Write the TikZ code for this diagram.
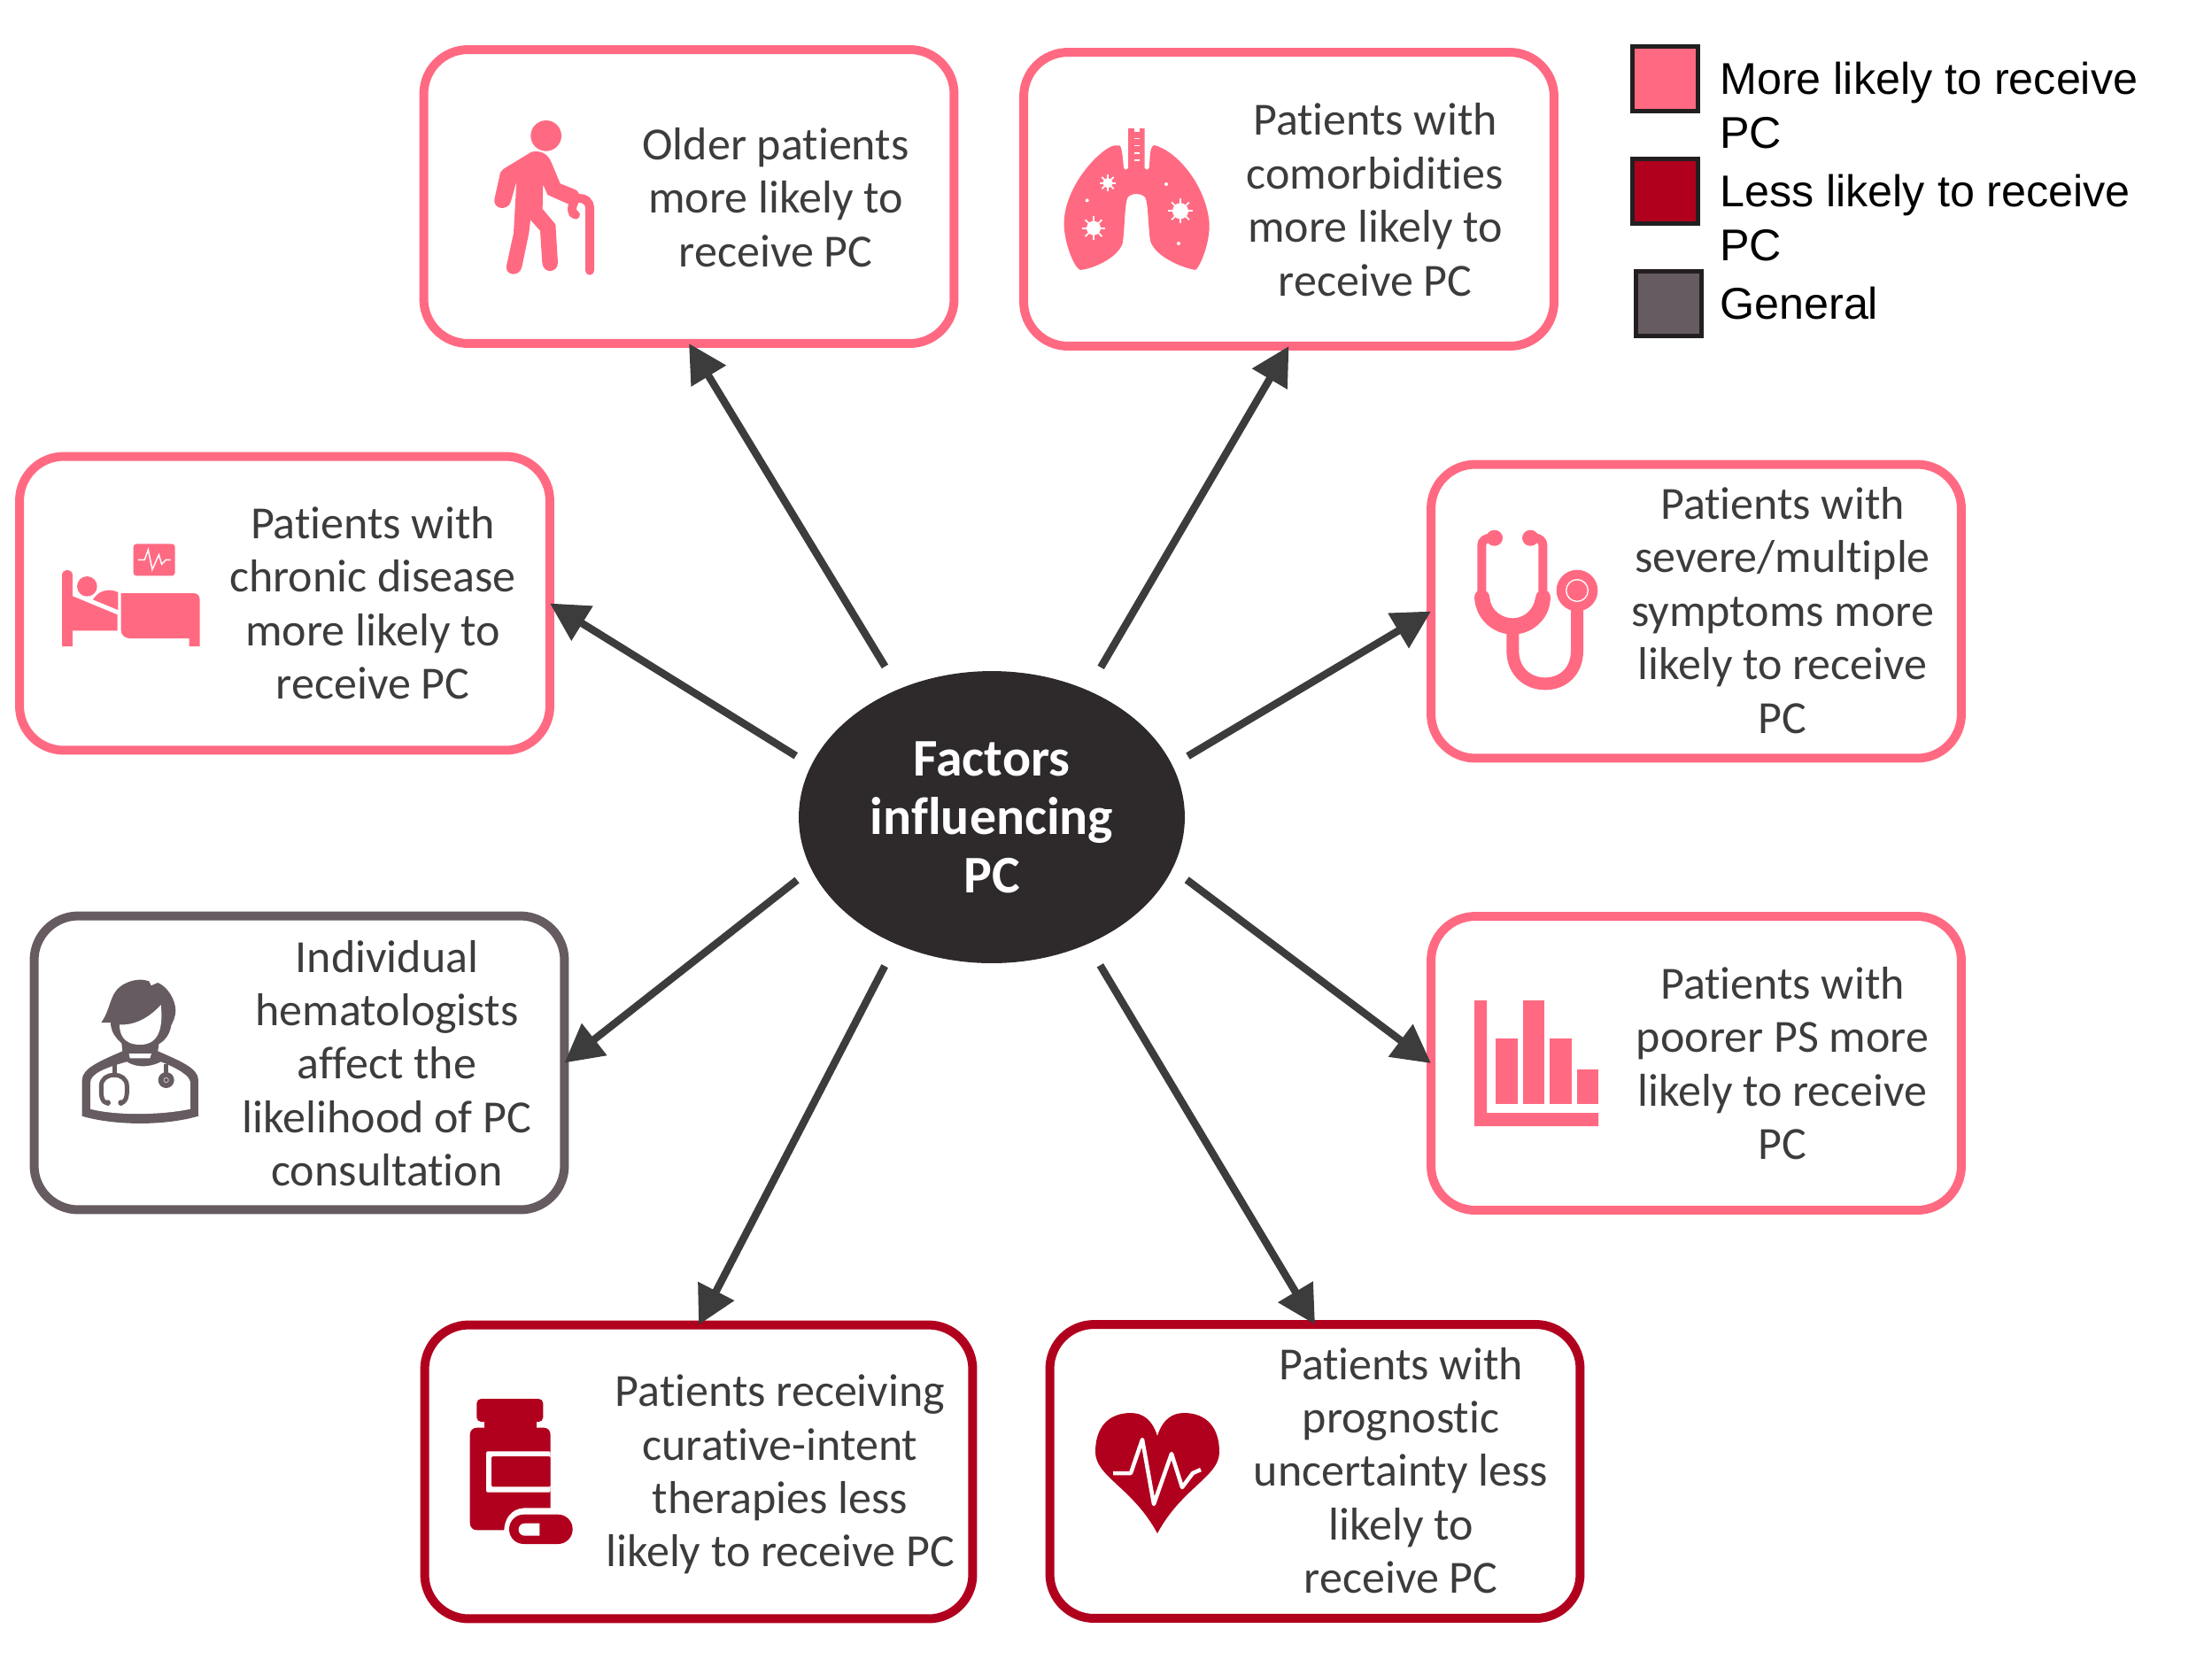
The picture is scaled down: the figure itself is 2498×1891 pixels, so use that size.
\documentclass[tikz,border=0pt]{standalone}
\usepackage{fontspec}
\setmainfont[Ligatures=NoCommon]{Carlito}
\newfontfamily\legendfont{Liberation Sans}
\usetikzlibrary{shapes.geometric}
\usetikzlibrary{arrows.meta}
\definecolor{pcmore}{HTML}{FF6A82}
\definecolor{pcless}{HTML}{B0001E}
\definecolor{pcgeneral}{HTML}{655B60}
\definecolor{pcdark}{HTML}{2E2A2B}
\definecolor{pctext}{HTML}{3C3C3C}
\definecolor{pcedge}{HTML}{231F20}
\tikzset{
  factorbox/.style={draw, line width=0.2cm, rounded corners=1cm, outer sep=0pt, minimum width=11.98cm, minimum height=6.64cm},
  morebox/.style={factorbox, draw=pcmore},
  lessbox/.style={factorbox, draw=pcless},
  generalbox/.style={factorbox, draw=pcgeneral},
  boxtext/.style={align=center, inner sep=0pt, text=pctext, font=\fontsize{29.6}{34.4}\selectfont},
  swatch/.style={draw=pcedge, line width=0.1cm, outer sep=0pt, minimum width=1.48cm, minimum height=1.46cm},
  legendtext/.style={align=left, anchor=west, inner sep=0pt, text=black, font=\legendfont\fontsize{28.6}{34.7}\selectfont},
  link/.style={draw=pctext, line width=0.17cm, -{Triangle[length=0.86cm,width=0.88cm]}},
  zoomed/.style={x=0.006667cm,y=-0.006667cm}
}
\newcommand{\virusmark}[4]{
  \fill[white] (#1,#2) circle (#3);
  \foreach \a in {0,45,...,315} \draw[white, line width=0.035cm] (#1,#2) -- ++(\a:#4);
}
\begin{document}
\begin{tikzpicture}[x=0.02cm,y=-0.02cm]
  \useasboundingbox (0,0) rectangle (2498,1891);

  % Central node
  \node [ellipse, fill=pcdark, inner sep=0pt, outer sep=0pt, minimum width=8.72cm, minimum height=6.6cm, align=center, text=white, font=\bfseries\fontsize{34}{37.5}\selectfont] (factors) at (1120,923) {Factors\\influencing\\PC};

  % Boxes
  \node [morebox] (older) at (778,222) {};
  \node [morebox] (comorbid) at (1455.5,225) {};
  \node [morebox] (chronic) at (321.5,681.5) {};
  \node [morebox] (severe) at (1915.5,690.5) {};
  \node [morebox] (poorer) at (1915.5,1201) {};
  \node [generalbox] (hemat) at (338,1200.5) {};
  \node [lessbox, minimum width=12.38cm] (curative) at (789,1662.5) {};
  \node [lessbox] (prognostic) at (1485,1662) {};

  % Box texts
  \node [boxtext] (oldertext) at (876,223) {Older patients\\more likely to\\receive PC};
  \node [boxtext] (comorbidtext) at (1553,225.5) {Patients with\\comorbidities\\more likely to\\receive PC};
  \node [boxtext] (chronictext) at (421,681) {Patients with\\chronic disease\\more likely to\\receive PC};
  \node [boxtext] (severetext) at (2013,689.5) {Patients with\\severe/multiple\\symptoms more\\likely to receive\\PC};
  \node [boxtext] (poorertext) at (2013,1201) {Patients with\\poorer PS more\\likely to receive\\PC};
  \node [boxtext] (hemattext) at (437,1201) {Individual\\hematologists\\affect the\\likelihood of PC\\consultation};
  \node [boxtext] (curativetext) at (881,1665.5) {Patients receiving\\curative-intent\\therapies less\\likely to receive PC};
  \node [boxtext] (prognostictext) at (1582,1661) {Patients with\\prognostic\\uncertainty less\\likely to\\receive PC};

  % Connections
  \path (factors.126) edge[link, shorten <=0.6cm] (older.south);
  \path (factors.53) edge[link, shorten <=0.6cm] (comorbid.south);
  \path (factors.164) edge[link, shorten <=0.41cm] (chronic.east);
  \path (factors.16) edge[link, shorten <=0.41cm] (severe.west);
  \path (factors.196) edge[link, shorten <=0.41cm] (hemat.east);
  \path (factors.344) edge[link, shorten <=0.41cm] (poorer.west);
  \path (factors.233) edge[link, shorten <=0.56cm] (curative.north);
  \path (factors.307) edge[link, shorten <=0.56cm] (prognostic.north);

  % Legend
  \node [swatch, fill=pcmore] (moreswatch) at (1880.5,89) {};
  \node [swatch, fill=pcless] (lessswatch) at (1880.5,216) {};
  \node [swatch, fill=pcgeneral] (generalswatch) at (1884,342.5) {};
  \node [legendtext] (morelabel) at (1942,119) {More likely to receive\\PC};
  \node [legendtext] (lesslabel) at (1942,246) {Less likely to receive\\PC};
  \node [legendtext] (generallabel) at (1942,343) {General};

  % Older patient icon
  \begin{scope}[shift={(550,130)},zoomed]
    \fill[pcmore] (200,70) circle (52);
    \fill[pcmore] (150,125) .. controls (180,118) and (205,130) .. (217,158) -- (248,232) -- (298,252) .. controls (318,262) and (318,285) .. (305,298) -- (272,300) -- (205,270) -- (190,235) -- (188,318) -- (232,370) -- (240,500) .. controls (240,535) and (190,540) .. (187,500) -- (180,392) -- (147,355) -- (142,400) -- (118,515) .. controls (110,550) and (60,545) .. (66,510) -- (90,400) -- (100,225) -- (80,295) .. controls (70,325) and (20,320) .. (25,285) -- (45,195) .. controls (48,188) and (50,186) .. (55,183) -- cycle;
    \draw[pcmore, line width=0.2cm, line cap=round] (348,527) -- (348,318) .. controls (348,290) and (330,282) .. (312,282);
    \draw[pcmore, line width=0.2cm, line cap=round] (300,338) .. controls (285,335) and (285,310) .. (295,295);
  \end{scope}

  % Lungs icon
  \begin{scope}[shift={(1195,135)},zoomed]
    \fill[pcmore] (208,88) .. controls (218,95) and (220,150) .. (222,165) .. controls (226,172) and (233,172) .. (237,165) -- (237,30) -- (293,30) -- (293,165) .. controls (297,172) and (304,172) .. (308,165) .. controls (312,130) and (308,95) .. (325,87) .. controls (400,105) and (500,220) .. (512,350) .. controls (515,420) and (480,500) .. (465,510) .. controls (410,500) and (325,460) .. (312,410) .. controls (305,370) and (305,280) .. (295,265) .. controls (285,248) and (245,248) .. (235,265) .. controls (225,285) and (225,380) .. (218,420) .. controls (200,470) and (120,505) .. (75,510) .. controls (50,500) and (15,400) .. (20,340) .. controls (30,210) and (150,95) .. (190,88) -- cycle;
    \fill[white] (257,30) rectangle (275,42);
    \foreach \y in {62,87,112,136} \fill[white] (257,\y) rectangle (275,\y+4);
    \virusmark{168}{215}{17}{28}
    \virusmark{120}{368}{24}{40}
    \virusmark{414}{310}{27}{42}
    \fill[white] (98,274) circle (6);
    \fill[white] (366,219) circle (6);
    \fill[white] (408,420) circle (6);
  \end{scope}

  % Bed icon
  \begin{scope}[shift={(60,605)},zoomed]
    \fill[pcmore, rounded corners=0.07cm] (272,28) rectangle (413,136);
    \draw[white, line width=0.03cm] (288,82) -- (310,82) -- (322,48) -- (336,115) -- (358,65) -- (368,97) -- (382,82) -- (398,82);
    \fill[pcmore] (30,375) -- (30,135) .. controls (30,110) and (66,110) .. (66,135) -- (66,205) -- (218,268) -- (218,322) -- (66,322) -- (66,375) -- cycle;
    \fill[pcmore] (115,172) circle (34);
    \fill[pcmore] (135,217) .. controls (150,190) and (185,175) .. (220,192) -- (220,252) -- cycle;
    \fill[pcmore] (230,195) -- (475,195) .. controls (490,195) and (497,205) .. (497,218) -- (497,375) -- (461,375) -- (461,348) -- (262,348) .. controls (240,348) and (230,335) .. (230,320) -- cycle;
  \end{scope}

  % Hematologist icon
  \begin{scope}[shift={(80,1100)},zoomed]
    \fill[pcgeneral] (38,482) -- (38,360) .. controls (38,320) and (100,295) .. (175,262) -- (172,235) .. controls (150,215) and (135,195) .. (135,165) -- (103,165) .. controls (125,135) and (130,100) .. (145,70) .. controls (165,30) and (225,10) .. (265,25) -- (272,40) -- (295,30) .. controls (330,45) and (355,90) .. (355,125) .. controls (355,145) and (345,165) .. (340,175) .. controls (335,205) and (320,225) .. (298,238) -- (295,262) .. controls (370,295) and (432,320) .. (432,360) -- (432,482) .. controls (320,515) and (150,515) .. (38,482) -- cycle;
    \fill[white] (165,172) .. controls (215,175) and (265,150) .. (305,105) .. controls (312,170) and (305,240) .. (235,240) .. controls (175,240) and (165,200) .. (165,172) -- cycle;
    \fill[white] (66,458) -- (66,370) .. controls (66,340) and (110,320) .. (190,298) .. controls (230,325) and (285,310) .. (305,298) .. controls (360,320) and (405,345) .. (405,370) -- (405,458) .. controls (300,480) and (150,480) .. (66,458) -- cycle;
    \fill[white] (197,270) -- (273,270) -- (268,286) -- (200,286) -- cycle;
    \draw[pcgeneral, line width=0.1cm] (150,300) -- (150,340);
    \draw[pcgeneral, line width=0.1cm] (120,437) .. controls (100,430) and (103,400) .. (103,380) .. controls (103,330) and (190,330) .. (190,380) .. controls (190,400) and (193,430) .. (172,437);
    \fill[pcgeneral] (125,437) circle (10);
    \fill[pcgeneral] (170,437) circle (10);
    \draw[pcgeneral, line width=0.1cm] (323,305) -- (323,340);
    \fill[pcgeneral] (323,360) circle (27);
    \draw[white!70!pcgeneral, line width=0.015cm] (323,360) circle (8);
  \end{scope}

  % Stethoscope icon
  \begin{scope}[shift={(1665,595)},zoomed]
    \draw[pcmore, line width=0.2cm] (25,220) -- (25,62) .. controls (25,48) and (38,38) .. (55,38);
    \draw[pcmore, line width=0.2cm] (232,220) -- (232,62) .. controls (232,48) and (220,38) .. (205,38);
    \fill[pcmore] (68,38) ellipse (28 and 27);
    \fill[pcmore] (190,38) ellipse (28 and 27);
    \fill[pcmore] (0,240) .. controls (5,320) and (70,365) .. (130,365) .. controls (190,365) and (255,320) .. (258,240) .. controls (258,205) and (210,205) .. (207,240) .. controls (200,285) and (165,310) .. (130,310) .. controls (95,310) and (55,285) .. (52,240) .. controls (50,205) and (0,205) .. (0,240) -- cycle;
    \draw[pcmore, line width=0.28cm] (130,360) -- (130,420) .. controls (130,490) and (180,532) .. (240,532) .. controls (300,532) and (348,490) .. (348,420) -- (348,270);
    \fill[pcmore] (348,216) circle (70);
    \draw[white, line width=0.027cm] (348,216) circle (37);
  \end{scope}

  % Chart icon
  \fill[pcmore] (1665,1130) -- (1679,1130) -- (1679,1257) -- (1805,1257) -- (1805,1272) -- (1665,1272) -- cycle;
  \fill[pcmore] (1689,1173) rectangle (1713.5,1247);
  \fill[pcmore] (1720,1130) rectangle (1744,1247);
  \fill[pcmore] (1750,1173) rectangle (1775,1247);
  \fill[pcmore] (1781,1208) rectangle (1805,1247);

  % Medication icon
  \begin{scope}[shift={(520,1580)},zoomed]
    \fill[pcless, rounded corners=0.1cm] (55,0) rectangle (280,78);
    \fill[pcless] (80,70) rectangle (258,105);
    \fill[pcless] (32,122) .. controls (32,108) and (42,98) .. (56,98) -- (282,98) .. controls (296,98) and (305,108) .. (305,122) -- (305,370) -- (215,370) .. controls (170,372) and (148,410) .. (148,445) -- (56,445) .. controls (42,445) and (32,435) .. (32,420) -- cycle;
    \fill[white, rounded corners=0.03cm] (87,178) -- (305,178) -- (305,317) -- (87,317) -- cycle;
    \fill[pcless, rounded corners=0.03cm] (105,195) -- (305,195) -- (305,298) -- (105,298) -- cycle;
    \fill[pcless, rounded corners=0.33cm] (165,392) rectangle (380,492);
    \fill[white] (268,422) -- (218,422) .. controls (190,422) and (190,464) .. (218,464) -- (268,464) -- cycle;
  \end{scope}

  % Heart icon
  \fill[pcless] (1307,1622) .. controls (1313,1603) and (1324,1596) .. (1337,1596) .. controls (1362,1596) and (1377,1612) .. (1377,1640) .. controls (1377,1668) and (1335,1680) .. (1307,1732) .. controls (1279,1680) and (1237,1668) .. (1237,1640) .. controls (1237,1612) and (1252,1596) .. (1277,1596) .. controls (1290,1596) and (1301,1603) .. (1307,1622) -- cycle;
  \draw[white, line width=0.09cm, line join=round] (1257,1664) -- (1277,1664) -- (1290,1626) -- (1303,1699) -- (1323,1642) -- (1335,1680) -- (1347,1664) -- (1356,1660);
\end{tikzpicture}
\end{document}
